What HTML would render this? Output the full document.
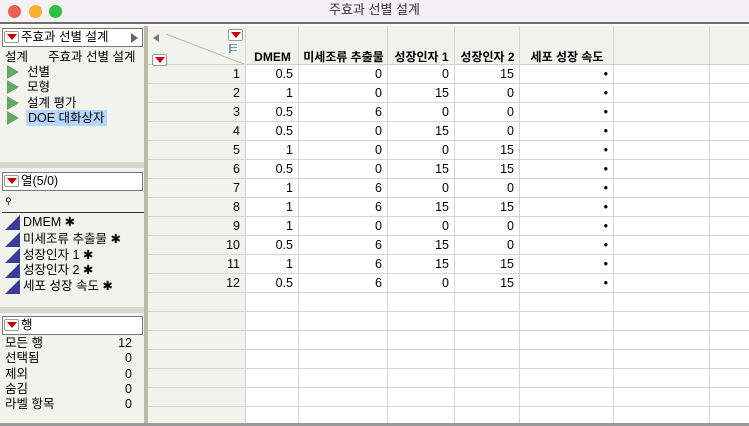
<!DOCTYPE html>
<html><head><meta charset="utf-8"><style>
*{box-sizing:border-box;margin:0;padding:0}
body{width:749px;height:426px;overflow:hidden;background:#fff;font-family:"Liberation Sans","Noto Sans CJK KR",sans-serif;font-size:12.5px;line-height:16px;color:#000;position:relative}
.abs{position:absolute;line-height:16px;white-space:nowrap}
.tri{display:inline-block;width:0;height:0;border-left:5px solid transparent;border-right:5px solid transparent;border-top:6px solid #c00}
.dd{position:absolute;width:15px;height:12px;border:1px solid #999;background:#fff;border-radius:2px;display:flex;align-items:center;justify-content:center}
.play{position:absolute;width:0;height:0;border-top:7px solid transparent;border-bottom:7px solid transparent;border-left:12px solid #62a862}
.cell{position:absolute;text-align:right;padding-right:6px;height:19px;line-height:19px}
.rt{position:absolute;width:0;height:0;border-left:15px solid transparent;border-bottom:15px solid #3a3a9a}
</style></head><body>
<div class="abs" style="left:0;top:0;width:749px;height:24px;background:#f4f1f4;border-bottom:2px solid #6e6e6e"></div>
<div class="abs" style="left:8px;top:5px;width:13px;height:13px;border-radius:50%;background:#ec5f57"></div>
<div class="abs" style="left:29px;top:5px;width:13px;height:13px;border-radius:50%;background:#f6b22f"></div>
<div class="abs" style="left:49px;top:5px;width:13px;height:13px;border-radius:50%;background:#2ec13f"></div>
<div class="abs" style="left:0;width:749px;top:2px;text-align:center;font-size:13px;color:#333">주효과 선별 설계</div>

<div class="abs" style="left:0;top:26px;width:144px;height:400px;background:#f3f3ee"></div>
<div class="abs" style="left:144px;top:26px;width:4px;height:400px;background:#bdb9a4"></div>
<div class="abs" style="left:0;top:162px;width:144px;height:6px;background:#d8d6ca"></div>
<div class="abs" style="left:0;top:307px;width:144px;height:6px;background:#d8d6ca"></div>

<div class="abs" style="left:2px;top:28px;width:141px;height:19px;background:#fff;border:1px solid #777;line-height:17px;padding-left:18px">주효과 선별 설계</div>
<div class="dd" style="left:4px;top:31px"><span class="tri"></span></div>
<div class="abs" style="left:131px;top:33px;border-top:5px solid transparent;border-bottom:5px solid transparent;border-left:7px solid #666"></div>
<div class="abs" style="left:5px;top:49px">설계</div>
<div class="abs" style="left:48px;top:49px">주효과 선별 설계</div>
<div class="play" style="left:7px;top:65px"></div>
<div class="abs" style="left:27px;top:64px">선별</div>
<div class="play" style="left:7px;top:80px"></div>
<div class="abs" style="left:27px;top:79px">모형</div>
<div class="play" style="left:7px;top:96px"></div>
<div class="abs" style="left:27px;top:95px">설계 평가</div>
<div class="play" style="left:7px;top:111px"></div>
<div class="abs" style="left:26px;top:110px;background:#b8d6fb;padding:0 2px">DOE 대화상자</div>

<div class="abs" style="left:2px;top:172px;width:141px;height:19px;background:#fff;border:1px solid #777;line-height:17px;padding-left:18px">열(5/0)</div>
<div class="dd" style="left:4px;top:175px"><span class="tri"></span></div>
<div class="abs" style="left:2px;top:193px;width:142px;height:20px;border-bottom:1px solid #333;font-size:9px;padding-left:3px">⚲</div>
<div class="rt" style="left:5px;top:215px"></div>
<div class="abs" style="left:23px;top:214px">DMEM ✱</div>
<div class="rt" style="left:5px;top:232px"></div>
<div class="abs" style="left:23px;top:231px">미세조류 추출물 ✱</div>
<div class="rt" style="left:5px;top:248px"></div>
<div class="abs" style="left:23px;top:247px">성장인자 1 ✱</div>
<div class="rt" style="left:5px;top:263px"></div>
<div class="abs" style="left:23px;top:262px">성장인자 2 ✱</div>
<div class="rt" style="left:5px;top:279px"></div>
<div class="abs" style="left:23px;top:278px">세포 성장 속도 ✱</div>

<div class="abs" style="left:2px;top:316px;width:141px;height:19px;background:#fff;border:1px solid #777;line-height:17px;padding-left:18px">행</div>
<div class="dd" style="left:4px;top:319px"><span class="tri"></span></div>
<div id="rowstats"></div>

<div class="abs" style="left:148px;top:26px;width:601px;height:39px;background:#f3f3ee;border-bottom:1px solid #d0d0d0"></div>
<div class="abs" style="left:148px;top:65px;width:98px;height:361px;background:#f3f3ee"></div>
<svg class="abs" style="left:148px;top:26px" width="98" height="39"><line x1="18" y1="8" x2="96" y2="38" stroke="#bbb"/><polygon points="5,12 11,8 11,16" fill="#777"/></svg>
<div class="dd" style="left:228px;top:29px"><span class="tri"></span></div>
<div class="dd" style="left:152px;top:54px"><span class="tri"></span></div>
<div class="abs" style="left:229px;top:44px;width:8px;height:9px;border-left:2px solid #7a9ab8;background:linear-gradient(#7a9ab8 0 1px,transparent 1px 3px,#7a9ab8 3px 4px,transparent 4px 6px,#7a9ab8 6px 7px,transparent 7px)"></div>
<div id="grid"></div>
<div class="abs" style="left:0;top:423px;width:749px;height:3px;background:#9a9a9a"></div>
<script>
const colNames=["DMEM","미세조류 추출물","성장인자 1","성장인자 2","세포 성장 속도","",""];
const dmem=[0.5,1,0.5,0.5,1,0.5,1,1,1,0.5,1,0.5];
const algae=[0,0,6,0,0,0,6,6,0,6,6,6];
const gf1=[0,15,0,15,0,15,0,15,0,15,15,0];
const gf2=[15,0,0,0,15,15,0,15,0,0,15,15];
const rate=["•","•","•","•","•","•","•","•","•","•","•","•"];
const statLabels=["모든 행","선택됨","제외","숨김","라벨 항목"];
const statValues=[12,0,0,0,0];
const xs=[148,246,299,388,455,520,614,710,749];
const g=document.getElementById('grid');
function add(html){g.insertAdjacentHTML('beforeend',html);return g.lastElementChild;}
for(let i=1;i<xs.length-1;i++){
 const v=add(`<div class="abs" style="left:${xs[i]-1}px;top:26px;width:1px;height:400px;background:#d4d4d4"></div>`);
 
 
 const h=add(`<div class="abs" style="left:${xs[i]}px;top:49px;width:${xs[i+1]-xs[i]}px;text-align:center;font-weight:bold;font-size:12px">${colNames[i-1]}</div>`);
 
 
}
for(let r=0;r<19;r++){
 const y=65+r*19;
 const l=add(`<div class="abs" style="left:148px;top:${y+18}px;width:601px;height:1px;background:#d4d4d4"></div>`);
 
 
 if(r<dmem.length){
  const vals=[r+1,dmem[r],algae[r],gf1[r],gf2[r],rate[r]];
  for(let c=0;c<6;c++){
   const e=add(`<div class="cell" style="left:${xs[c]}px;top:${y}px;width:${xs[c+1]-xs[c]}px">${vals[c]}</div>`);
   
   
  }
 }
}
const rs=document.getElementById('rowstats');
statLabels.forEach((s,i)=>{
 const y=335+i*15.3;
 rs.insertAdjacentHTML('beforeend',`<div class="abs" style="left:5px;top:${y}px">${s}</div><div class="abs" style="left:60px;width:72px;text-align:right;top:${y}px">${statValues[i]}</div>`);
 const a=rs.children[rs.children.length-2], b=rs.lastElementChild;
 
 
 
 
});
</script>
</body></html>
